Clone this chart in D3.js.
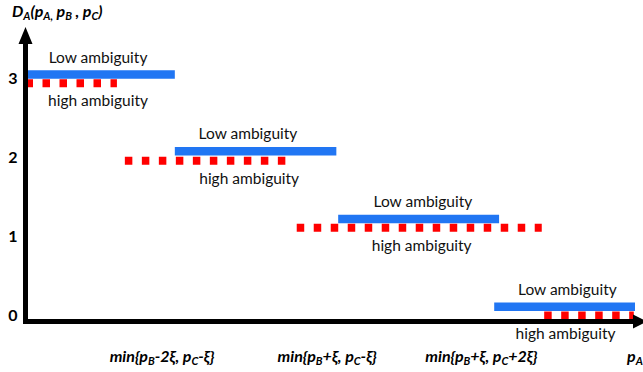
<!DOCTYPE html>
<html>
<head>
<meta charset="utf-8">
<script src="https://cdn.jsdelivr.net/npm/d3@7"></script>
<style>
  body { margin: 0; background: #fff; }
  text { font-family: Lato, "Open Sans", sans-serif; }
</style>
</head>
<body>
<div id="chart"></div>
<script>
// levels of D_A and the steps (x in 0..100 units along p_A)
var levels = [3, 2, 1, 0];
var lowStart = [0, 24.5, 51.3, 76.9];
var lowEnd = [24.5, 51.0, 77.7, 100];
var lowValue = [3.05, 2.08, 1.22, 0.11];
var highStart = [0, 16.3, 44.5, 85.1];
var highEnd = [15.0, 42.7, 84.7, 99.8];
var highValue = [2.94, 1.96, 1.11, 0.0];
var lowLabelX = [11.9, 36.5, 65.2, 88.9];
var highLabelX = [11.9, 36.7, 65.0, 88.6];
var lowLabel = "Low ambiguity";
var highLabel = "high ambiguity";
// x tick labels: [before sub B, sub B, between, sub C, after]
var xTicks = [22.4, 49.5, 74.8];
var xTickParts = [
  ["min{p", "B", "-2ξ, p", "C", "-ξ}"],
  ["min{p", "B", "+ξ, p", "C", "-ξ}"],
  ["min{p", "B", "+ξ, p", "C", "+2ξ}"]
];

var width = 643, height = 372;

var svg = d3.select("#chart")
  .append("svg")
    .attr("width", width)
    .attr("height", height);

var x = d3.scaleLinear().domain([0, 100]).range([25.5, 635]);
var y = d3.scaleLinear().domain([0, 3]).range([315.5, 78.5]);

var blue = "#2176f3", red = "#ff0000";

// low ambiguity (solid blue)
svg.selectAll(".low")
  .data(levels)
  .enter().append("line")
    .attr("x1", function(d, i) { return x(lowStart[i]); })
    .attr("x2", function(d, i) { return x(lowEnd[i]); })
    .attr("y1", function(d, i) { return y(lowValue[i]); })
    .attr("y2", function(d, i) { return y(lowValue[i]); })
    .attr("stroke", blue)
    .attr("stroke-width", 8.5);

// high ambiguity (dotted red)
svg.selectAll(".high")
  .data(levels)
  .enter().append("line")
    .attr("x1", function(d, i) { return x(highStart[i]); })
    .attr("x2", function(d, i) { return x(highEnd[i]); })
    .attr("y1", function(d, i) { return y(highValue[i]); })
    .attr("y2", function(d, i) { return y(highValue[i]); })
    .attr("stroke", red)
    .attr("stroke-width", 8)
    .attr("stroke-dasharray", "7.5,9.5");

svg.selectAll(".lowlab")
  .data(levels)
  .enter().append("text")
    .attr("x", function(d, i) { return x(lowLabelX[i]); })
    .attr("y", function(d, i) { return y(lowValue[i]) - 12; })
    .attr("text-anchor", "middle")
    .attr("font-size", 15.5)
    .attr("fill", "#111")
    .text(lowLabel);

svg.selectAll(".highlab")
  .data(levels)
  .enter().append("text")
    .attr("x", function(d, i) { return x(highLabelX[i]); })
    .attr("y", function(d, i) { return y(highValue[i]) + 23; })
    .attr("text-anchor", "middle")
    .attr("font-size", 15.5)
    .attr("fill", "#111")
    .text(highLabel);

// axes
svg.append("path")
  .attr("d", "M" + x(0) + "," + 43 + "V" + 321.5 + "H" + 634)
  .attr("fill", "none")
  .attr("stroke", "#000")
  .attr("stroke-width", 5);
svg.append("path")
  .attr("d", "M" + x(0) + ",27L" + (x(0) - 7) + ",44L" + (x(0) + 7) + ",44Z")
  .attr("fill", "#000");
svg.append("path")
  .attr("d", "M647,321.5L633,314.5L633,328.5Z")
  .attr("fill", "#000");

// y tick labels
svg.selectAll(".ytick")
  .data(levels)
  .enter().append("text")
    .attr("x", 13)
    .attr("y", function(d) { return y(d); })
    .attr("dy", "0.36em")
    .attr("text-anchor", "middle")
    .attr("font-size", 16)
    .attr("font-weight", "bold")
    .text(function(d) { return d; });

// x tick labels
xTickParts.forEach(function(p, i) {
  var t = svg.append("text")
    .attr("x", x(xTicks[i]))
    .attr("y", 362)
    .attr("text-anchor", "middle")
    .attr("font-size", 16)
    .attr("font-weight", "bold")
    .attr("font-style", "italic");
  t.append("tspan").text(p[0]);
  t.append("tspan").attr("font-size", 11).attr("dy", 3).text(p[1]);
  t.append("tspan").attr("dy", -3).text(p[2]);
  t.append("tspan").attr("font-size", 11).attr("dy", 3).text(p[3]);
  t.append("tspan").attr("dy", -3).text(p[4]);
});

// axis names
var xName = svg.append("text")
  .attr("x", 627)
  .attr("y", 362)
  .attr("font-size", 16)
  .attr("font-weight", "bold")
  .attr("font-style", "italic");
xName.append("tspan").text("p");
xName.append("tspan").attr("font-size", 11).attr("dy", 3).text("A");

var yName = svg.append("text")
  .attr("x", 12)
  .attr("y", 17)
  .attr("font-size", 16)
  .attr("font-weight", "bold")
  .attr("font-style", "italic");
yName.append("tspan").text("D");
yName.append("tspan").attr("font-size", 11).attr("dy", 3).text("A");
yName.append("tspan").attr("dy", -3).text("(p");
yName.append("tspan").attr("font-size", 11).attr("dy", 3).text("A,");
yName.append("tspan").attr("dy", -3).text(" p");
yName.append("tspan").attr("font-size", 11).attr("dy", 3).text("B");
yName.append("tspan").attr("dy", -3).text(" , p");
yName.append("tspan").attr("font-size", 11).attr("dy", 3).text("C");
yName.append("tspan").attr("dy", -3).text(")");
</script>
</body>
</html>
